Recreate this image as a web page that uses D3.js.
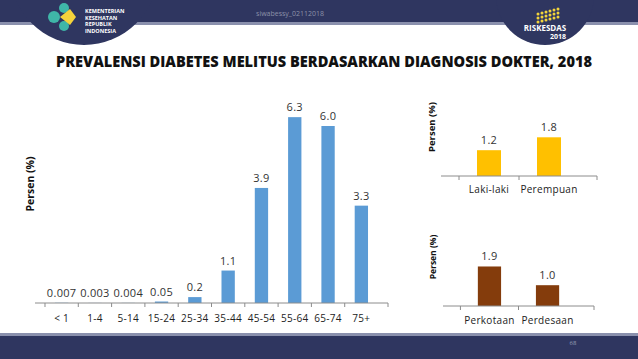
<!DOCTYPE html>
<html>
<head>
<meta charset="utf-8">
<script src="https://cdn.jsdelivr.net/npm/d3@7"></script>
<style>
  body { margin: 0; background: #fff; }
  svg { display: block; font-family: "Open Sans", "Liberation Sans", sans-serif; }
</style>
</head>
<body>
<svg id="svg" width="638" height="359"></svg>
<script>
// data
const ageGroups = ["< 1", "1-4", "5-14", "15-24", "25-34", "35-44", "45-54", "55-64", "65-74", "75+"];
const ageValues = [0.007, 0.003, 0.004, 0.05, 0.2, 1.1, 3.9, 6.3, 6.0, 3.3];
const ageLabels = ["0.007", "0.003", "0.004", "0.05", "0.2", "1.1", "3.9", "6.3", "6.0", "3.3"];

const sexGroups = ["Laki-laki", "Perempuan"];
const sexValues = [1.2, 1.8];

const areaGroups = ["Perkotaan", "Perdesaan"];
const areaValues = [1.9, 1.0];

const title = "PREVALENSI DIABETES MELITUS BERDASARKAN DIAGNOSIS DOKTER, 2018";
const navy = "#2f3660";

const svg = d3.select("#svg");

// ---------- header / footer bands ----------
svg.append("rect").attr("x", 0).attr("y", 0).attr("width", 638).attr("height", 22).attr("fill", navy);
svg.append("rect").attr("x", 0).attr("y", 22).attr("width", 638).attr("height", 3).attr("fill", "#8a90ad");
svg.append("circle").attr("cx", 84).attr("cy", -29).attr("r", 74).attr("fill", navy);
svg.append("circle").attr("cx", 545).attr("cy", -4).attr("r", 49).attr("fill", navy);

// left logo (simplified)
const logo = svg.append("g").attr("transform", "translate(62,17)");
logo.append("circle").attr("cx", -8).attr("cy", 0).attr("r", 6).attr("fill", "#3fb6a8");
logo.append("circle").attr("cx", 2).attr("cy", -9).attr("r", 5).attr("fill", "#3fb6a8");
logo.append("circle").attr("cx", 2).attr("cy", 9).attr("r", 5).attr("fill", "#3fb6a8");
logo.append("path").attr("d", "M-2,0 L8,-8 L14,0 L8,8 Z").attr("fill", "#f5d33b");
["KEMENTERIAN", "KESEHATAN", "REPUBLIK", "INDONESIA"].forEach((t, i) => {
  svg.append("text").attr("x", 85).attr("y", 13 + i * 6.5)
    .attr("font-size", 5.5).attr("font-weight", 700).attr("fill", "#fff").text(t);
});

// right logo (simplified)
const dots = d3.range(18);
svg.append("g").selectAll("circle").data(dots).join("circle")
  .attr("cx", d => 538 + (d % 6) * 4)
  .attr("cy", d => 14 + Math.floor(d / 6) * 4 - (d % 6))
  .attr("r", 1.5).attr("fill", "#f2d33a");
svg.append("text").attr("x", 545).attr("y", 31).attr("text-anchor", "middle")
  .attr("font-size", 8).attr("font-weight", 700).attr("fill", "#fff").text("RISKESDAS");
svg.append("text").attr("x", 566).attr("y", 39).attr("text-anchor", "end")
  .attr("font-size", 7).attr("font-weight", 700).attr("fill", "#fff").text("2018");

svg.append("text").attr("x", 290).attr("y", 16).attr("text-anchor", "middle")
  .attr("font-size", 7).attr("fill", "#8c91a8").text("siwabessy_02112018");

svg.append("rect").attr("x", 0).attr("y", 333).attr("width", 638).attr("height", 3).attr("fill", "#8a90ad");
svg.append("rect").attr("x", 0).attr("y", 336).attr("width", 638).attr("height", 23).attr("fill", navy);
svg.append("text").attr("x", 573).attr("y", 345).attr("text-anchor", "middle")
  .attr("font-size", 6).attr("fill", "#9aa0b8").text("68");

// ---------- title ----------
svg.append("text").attr("x", 324).attr("y", 67).attr("text-anchor", "middle")
  .attr("font-size", 15).attr("font-weight", 800).attr("fill", "#111")
  .attr("textLength", 536).attr("lengthAdjust", "spacingAndGlyphs")
  .text(title);

// ---------- small bar chart helper ----------
function barChart(opts) {
  const g = svg.append("g");
  const x = d3.scaleBand().domain(opts.cats).range([opts.x0, opts.x1]).padding(opts.pad);
  const y = d3.scaleLinear().domain([0, opts.ymax]).range([opts.base, opts.base - opts.h]);

  g.selectAll("rect.bar").data(opts.vals).join("rect")
    .attr("class", "bar")
    .attr("x", (d, i) => x(opts.cats[i]))
    .attr("y", d => y(d))
    .attr("width", x.bandwidth())
    .attr("height", d => opts.base - y(d))
    .attr("fill", opts.color);

  g.selectAll("text.val").data(opts.vals).join("text")
    .attr("class", "val")
    .attr("x", (d, i) => x(opts.cats[i]) + x.bandwidth() / 2)
    .attr("y", d => y(d) - opts.gap)
    .attr("text-anchor", "middle")
    .attr("font-size", opts.vfs).attr("letter-spacing", opts.ls)
    .attr("fill", "#333")
    .text((d, i) => opts.labels ? opts.labels[i] : d3.format(".1f")(d));

  // category axis, ticks at band edges
  const ax = g.append("g").attr("transform", `translate(0,${opts.base})`);
  ax.append("line").attr("x1", opts.x0).attr("x2", opts.x1).attr("stroke", "#8c8c8c");
  const edges = opts.cats.map(c => x(c) - (x.step() - x.bandwidth()) / 2);
  edges.push(opts.x1);
  ax.selectAll("line.tick").data(edges).join("line").attr("class", "tick")
    .attr("x1", d => d).attr("x2", d => d).attr("y1", 0).attr("y2", 4).attr("stroke", "#8c8c8c");
  ax.selectAll("text").data(opts.cats).join("text")
    .attr("x", d => x(d) + x.bandwidth() / 2)
    .attr("y", opts.labY)
    .attr("text-anchor", "middle")
    .attr("font-size", opts.cfs).attr("letter-spacing", opts.ls)
    .attr("fill", "#222")
    .text(d => d);

  svg.append("text")
    .attr("transform", `translate(${opts.tx},${opts.ty}) rotate(-90)`)
    .attr("text-anchor", "middle")
    .attr("font-size", opts.tfs).attr("font-weight", 700).attr("fill", "#111")
    .text("Persen (%)");
}

barChart({
  cats: ageGroups, vals: ageValues, labels: ageLabels,
  x0: 35, x1: 388, pad: 0.6, base: 303, ymax: 7, h: 206.5,
  color: "#5b9bd5", gap: 6, vfs: 11, cfs: 10, ls: 0.3, labY: 19,
  tx: 34, ty: 184, tfs: 10.5
});

barChart({
  cats: sexGroups, vals: sexValues,
  x0: 441, x1: 597, pad: 0.6, base: 176, ymax: 2, h: 43,
  color: "#ffc000", gap: 6, vfs: 11, cfs: 10, ls: 0.3, labY: 17,
  tx: 435, ty: 127, tfs: 9.5
});

barChart({
  cats: areaGroups, vals: areaValues,
  x0: 443, x1: 594, pad: 0.6, base: 306, ymax: 2, h: 41.6,
  color: "#843c0c", gap: 6, vfs: 11, cfs: 10, ls: 0.3, labY: 18,
  tx: 436, ty: 257, tfs: 8.5
});
</script>
</body>
</html>
